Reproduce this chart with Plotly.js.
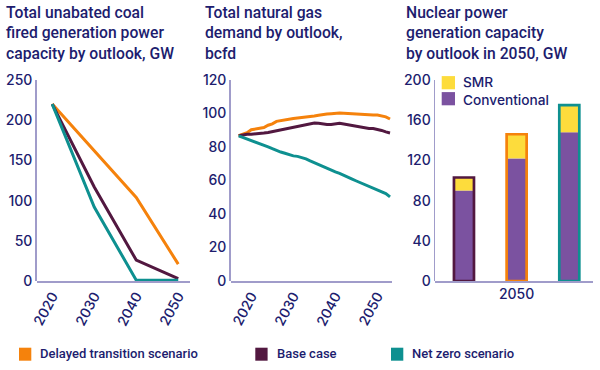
<!DOCTYPE html>
<html>
<head>
<meta charset="utf-8">
<script src="https://cdn.plot.ly/plotly-3.0.1.min.js"></script>
<style>html,body{margin:0;padding:0;background:#fff;}#chart{width:600px;height:370px;}</style>
</head>
<body>
<div id="chart"></div>
<script>
// ---- Data ----
const scenarios = ['Delayed transition scenario', 'Base case', 'Net zero scenario'];

const coalYears = [2020, 2030, 2040, 2050];
const coalDelayed = [220, 162, 104, 21];
const coalBase = [220, 117, 26, 3];
const coalNetZero = [220, 92, 1, 1];

const gasYears = [2017, 2018, 2019, 2020, 2021, 2022, 2023, 2024, 2025, 2026, 2027, 2028, 2029, 2030,
  2031, 2032, 2033, 2034, 2035, 2036, 2037, 2038, 2039, 2040, 2041, 2042, 2043, 2044, 2045, 2046,
  2047, 2048, 2049, 2050, 2051, 2052, 2053];
const gasDelayed = [86.7, 87.5, 88.5, 90.3, 90.6, 91.2, 91.6, 93.0, 93.8, 95.3, 95.8, 96.2, 96.5, 97.0,
  97.3, 97.5, 97.7, 98.1, 98.5, 99.0, 99.5, 99.7, 99.9, 100.2, 100.3, 100.1, 99.9, 99.8, 99.7, 99.4,
  99.1, 99.1, 99.1, 99.1, 98.7, 98.0, 96.7];
const gasBase = [86.7, 87.2, 87.6, 87.6, 87.7, 88.0, 88.3, 88.7, 89.2, 89.8, 90.2, 90.9, 91.5, 92.1,
  92.6, 93.1, 93.5, 93.9, 94.3, 94.2, 93.7, 93.5, 93.5, 93.7, 94.1, 93.7, 93.2, 92.8, 92.3, 91.9,
  91.4, 91.1, 91.0, 90.6, 89.9, 89.0, 88.4];
const gasNetZero = [86.7, 85.8, 84.9, 84.0, 83.1, 82.1, 81.1, 80.1, 79.0, 77.8, 77.0, 76.3, 75.5, 74.7,
  74.4, 73.8, 72.9, 71.7, 70.6, 69.4, 68.3, 67.0, 65.9, 65.1, 64.2, 62.9, 61.9, 60.8, 59.7, 58.6,
  57.5, 56.4, 55.3, 54.2, 53.4, 52.2, 50.2];

const nuclearScenarios = ['Base case', 'Delayed transition scenario', 'Net zero scenario'];
const nuclearConventional = [90, 122, 148];
const nuclearSMR = [13, 24, 27];
const nuclearTickLabel = ['2050'];
const nuclearParts = ['SMR', 'Conventional'];

const coalTicks = [0, 50, 100, 150, 200, 250];
const gasTicks = [0, 20, 40, 60, 80, 100, 120];
const nuclearTicks = [0, 40, 80, 120, 160, 200];
const yearTicks = [2020, 2030, 2040, 2050];

const titles = [
  ['Total unabated coal', 'fired generation power', 'capacity by outlook, GW'],
  ['Total natural gas', 'demand by outlook,', 'bcfd'],
  ['Nuclear power', 'generation capacity', 'by outlook in 2050, GW']
];

// ---- Style ----
const W = 600, H = 370;
const px = x => x / W;
const py = y => 1 - y / H;
const NAVY = '#201c6e';
const FONT = 'Inter, "Liberation Sans", sans-serif';
const ROBO = 'Roboto, Inter, sans-serif';
const colors = {
  'Delayed transition scenario': '#f5820c',
  'Base case': '#521840',
  'Net zero scenario': '#0e9090'
};
const CONV = '#7b52a0';
const SMR = '#fddc3c';
const AXIS = '#a09cca';

const nuclearTotal = nuclearConventional.map((v, i) => v + nuclearSMR[i]);

function line(x, y, name, xa, ya) {
  return {type: 'scatter', mode: 'lines', x: x, y: y, name: name, xaxis: xa, yaxis: ya,
    line: {color: colors[name], width: 3}, showlegend: false, hoverinfo: 'skip'};
}

const traces = [
  line(coalYears, coalDelayed, 'Delayed transition scenario', 'x', 'y'),
  line(coalYears, coalBase, 'Base case', 'x', 'y'),
  line(coalYears, coalNetZero, 'Net zero scenario', 'x', 'y'),
  line(gasYears, gasDelayed, 'Delayed transition scenario', 'x2', 'y2'),
  line(gasYears, gasBase, 'Base case', 'x2', 'y2'),
  line(gasYears, gasNetZero, 'Net zero scenario', 'x2', 'y2'),
  {type: 'bar', x: nuclearScenarios, y: nuclearConventional, name: 'Conventional', xaxis: 'x3', yaxis: 'y3',
    width: 0.38, marker: {color: CONV, line: {width: 0}}, showlegend: false},
  {type: 'bar', x: nuclearScenarios, y: nuclearSMR, base: nuclearConventional, name: 'SMR', xaxis: 'x3', yaxis: 'y3',
    width: 0.38, marker: {color: SMR, line: {width: 0}}, showlegend: false},
  {type: 'bar', x: nuclearScenarios, y: nuclearTotal, name: 'Outline', xaxis: 'x3', yaxis: 'y3',
    width: 0.38, marker: {color: 'rgba(0,0,0,0)', line: {width: 2.7, color: nuclearScenarios.map(s => colors[s])}},
    showlegend: false, hoverinfo: 'skip'}
];

const tickFont = {family: FONT, size: 14, color: NAVY, weight: 500};
const yDomain = [py(281), py(80)];
function yaxis(range, ticks) {
  return {domain: yDomain, range: range, tickvals: ticks, showline: true, linecolor: AXIS, linewidth: 1.5,
    showgrid: false, zeroline: false, ticks: '', tickfont: tickFont, fixedrange: true};
}
function xyear(domain, range) {
  return {domain: domain, range: range, tickvals: yearTicks, tickangle: -62, showline: true, linecolor: AXIS,
    linewidth: 1.5, showgrid: false, zeroline: false, ticks: '', tickfont: tickFont, anchor: 'free', position: py(281)};
}

const annotations = [];
const titleX = [4, 202.5, 404];
titles.forEach((t, i) => {
  annotations.push({xref: 'paper', yref: 'paper', x: px(titleX[i]), y: py(1), xanchor: 'left', yanchor: 'top',
    align: 'left', text: t.join('<br>'), showarrow: false, font: {family: ROBO, size: 15.7, color: NAVY, weight: 500}});
});

const shapes = [];
// Bar legend (SMR / Conventional)
const barColors = [SMR, CONV];
const barLegY = [82.7, 98.7];
nuclearParts.forEach((name, i) => {
  shapes.push({type: 'rect', xref: 'paper', yref: 'paper', x0: px(441.7), x1: px(455),
    y0: py(barLegY[i] - 6.6), y1: py(barLegY[i] + 6.6), fillcolor: barColors[i], line: {width: 0}});
});
annotations.push({xref: 'paper', yref: 'paper', x: px(461), y: py(90.7), xanchor: 'left', yanchor: 'middle',
  align: 'left', text: nuclearParts.join('<br>'), showarrow: false,
  font: {family: FONT, size: 13.7, color: NAVY, weight: 500}});

// Scenario legend at bottom
const legX = [[19, 38.3], [255.3, 275.3], [391, 410]];
scenarios.forEach((s, i) => {
  shapes.push({type: 'rect', xref: 'paper', yref: 'paper', x0: px(legX[i][0]), x1: px(legX[i][0] + 12.3),
    y0: py(360.7), y1: py(347.7), fillcolor: colors[s], line: {width: 0}});
  annotations.push({xref: 'paper', yref: 'paper', x: px(legX[i][1]), y: py(353.5), xanchor: 'left', yanchor: 'middle',
    text: s, showarrow: false, font: {family: ROBO, size: 13, color: NAVY, weight: 500}});
});

const layout = {
  width: W, height: H, margin: {l: 0, r: 0, t: 0, b: 0}, paper_bgcolor: '#fff', plot_bgcolor: 'rgba(0,0,0,0)',
  showlegend: false, barmode: 'overlay',
  xaxis: xyear([px(36.7), px(190)], [2016.3, 2052.8]),
  yaxis: Object.assign(yaxis([0, 250], coalTicks), {anchor: 'x'}),
  xaxis2: xyear([px(230.7), px(391.7)], [2015.1, 2053.4]),
  yaxis2: Object.assign(yaxis([0, 120], gasTicks), {anchor: 'x2'}),
  xaxis3: {domain: [px(435), px(593)], range: [-0.55, 2.45], type: 'category', categoryorder: 'array',
    categoryarray: nuclearScenarios, tickvals: [nuclearScenarios[1]], ticktext: nuclearTickLabel, showline: true,
    linecolor: AXIS, linewidth: 1.5, showgrid: false, zeroline: false, ticks: '', tickfont: tickFont,
    anchor: 'free', position: py(281)},
  yaxis3: Object.assign(yaxis([0, 200], nuclearTicks), {anchor: 'x3'}),
  annotations: annotations,
  shapes: shapes
};

Plotly.newPlot('chart', traces, layout, {displayModeBar: false, staticPlot: true});
</script>
</body>
</html>
